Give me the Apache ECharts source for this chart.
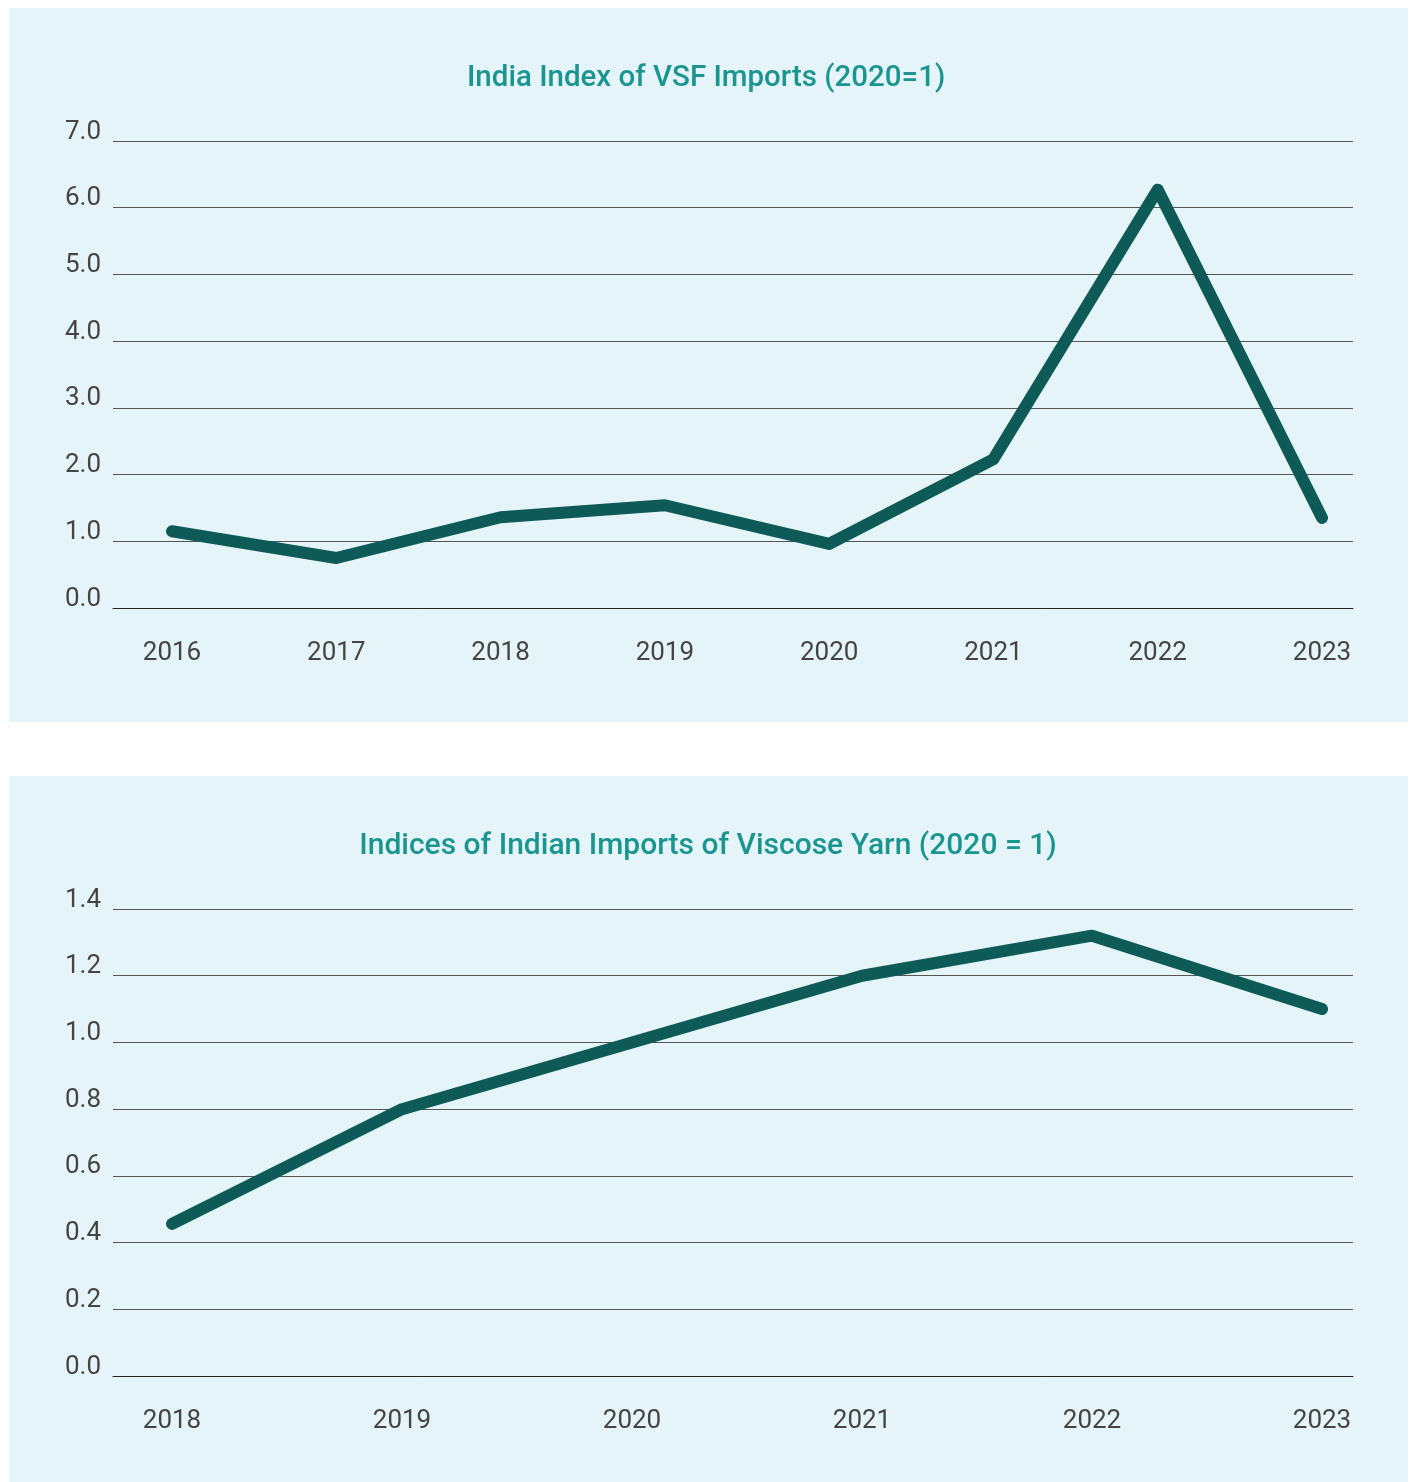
<!DOCTYPE html>
<html>
<head>
<meta charset="utf-8">
<script src="https://cdn.jsdelivr.net/npm/echarts@6/dist/echarts.min.js"></script>
<style>
html,body{margin:0;padding:0;background:#ffffff;}
#c{width:1416px;height:1482px;}
</style>
</head>
<body>
<div id="c"></div>
<script>
// Chart 1: India Index of VSF Imports (2020=1)
var vsfYears = ['2016','2017','2018','2019','2020','2021','2022','2023'];
var vsfValues = [1.15, 0.75, 1.36, 1.54, 0.96, 2.23, 6.27, 1.35];
var vsfTitle = 'India Index of VSF Imports (2020=1)';

// Chart 2: Indices of Indian Imports of Viscose Yarn (2020 = 1)
var yarnYears = ['2018','2019','2020','2021','2022','2023'];
var yarnValues = [0.456, 0.80, 1.0, 1.20, 1.32, 1.10];
var yarnTitle = 'Indices of Indian Imports of Viscose Yarn (2020 = 1)';

var FONT = 'Roboto';
var LINE = '#0e5a57';
var TEAL = '#1a9590';
var LABEL = '#444444';
var GRIDC = '#555555';

var chart = echarts.init(document.getElementById('c'), null, {renderer:'canvas'});

function yLab(){
  return {color: LABEL, fontFamily: FONT, fontSize: 26, margin: 12, verticalAlign: 'bottom',
          lineHeight: 18,
          formatter: function(v){ return v.toFixed(1); }};
}
function xLab(){
  return {color: LABEL, fontFamily: FONT, fontSize: 26, margin: 32};
}

var option = {
  animation: false,
  backgroundColor: '#ffffff',
  graphic: [
    {type:'rect', shape:{x:9, y:8, width:1399, height:714}, style:{fill:'#e4f4f8'}, z:-10},
    {type:'rect', shape:{x:9, y:776, width:1399, height:706}, style:{fill:'#e4f4f8'}, z:-10}
  ],
  title: [
    {text: vsfTitle, left: 462, top: 59, textStyle:{color: TEAL, fontFamily: FONT, fontWeight: 500, fontSize: 29.5}},
    {text: yarnTitle, left: 'center', top: 826, textStyle:{color: TEAL, fontFamily: FONT, fontWeight: 500, fontSize: 30}}
  ],
  grid: [
    {left:113, right:63, top:141, height:467},
    {left:172, right:94, top:141, height:467},
    {left:113, right:63, top:909, height:467},
    {left:172, right:94, top:909, height:467}
  ],
  xAxis: [
    {gridIndex:0, type:'category', data: vsfYears, show:true, axisLine:{show:true, lineStyle:{color:'#222', width:1}}, axisTick:{show:false}, axisLabel:{show:false}},
    {gridIndex:1, type:'category', data: vsfYears, boundaryGap:false, axisLine:{show:false}, axisTick:{show:false}, axisLabel: xLab()},
    {gridIndex:2, type:'category', data: yarnYears, show:true, axisLine:{show:true, lineStyle:{color:'#222', width:1}}, axisTick:{show:false}, axisLabel:{show:false}},
    {gridIndex:3, type:'category', data: yarnYears, boundaryGap:false, axisLine:{show:false}, axisTick:{show:false}, axisLabel: xLab()}
  ],
  yAxis: [
    {gridIndex:0, type:'value', min:0, max:7, interval:1, axisLine:{show:false}, axisTick:{show:false}, axisLabel: yLab(), splitLine:{lineStyle:{color:GRIDC, width:1}}},
    {gridIndex:1, type:'value', min:0, max:7, interval:1, show:false, splitLine:{show:false}},
    {gridIndex:2, type:'value', min:0, max:1.4, interval:0.2, axisLine:{show:false}, axisTick:{show:false}, axisLabel: yLab(), splitLine:{lineStyle:{color:GRIDC, width:1}}},
    {gridIndex:3, type:'value', min:0, max:1.4, interval:0.2, show:false, splitLine:{show:false}}
  ],
  series: [
    {type:'line', xAxisIndex:1, yAxisIndex:1, data: vsfValues, showSymbol:false, symbol:'none',
     lineStyle:{color: LINE, width: 12, cap:'round', join:'round'}},
    {type:'line', xAxisIndex:3, yAxisIndex:3, data: yarnValues, showSymbol:false, symbol:'none',
     lineStyle:{color: LINE, width: 12, cap:'round', join:'round'}}
  ]
};
chart.setOption(option);
</script>
</body>
</html>
